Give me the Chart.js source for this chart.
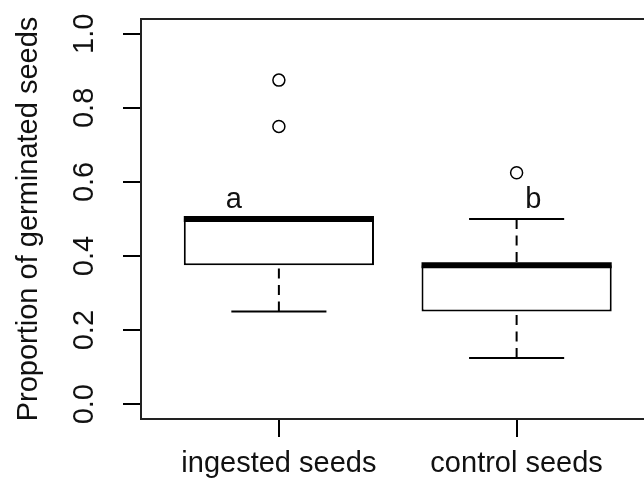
<!DOCTYPE html>
<html>
<head>
<meta charset="utf-8">
<title>Seed germination</title>
<script src="https://cdn.jsdelivr.net/npm/chart.js@4.4.1/dist/chart.umd.min.js"></script>
<style>
  html, body { margin: 0; padding: 0; background: #fff; overflow: hidden; }
  #wrap { width: 644px; height: 479px; overflow: hidden; }
  canvas { display: block; }
</style>
</head>
<body>
<div id="wrap"><canvas id="boxChart" width="662" height="479"></canvas></div>
<script>
const groups = ['ingested seeds', 'control seeds'];
const lowerWhisker = [0.25, 0.125];
const lowerQuartile = [0.375, 0.25];
const medians = [0.5, 0.375];
const upperQuartile = [0.5, 0.375];
const upperWhisker = [0.5, 0.5];
const outliers = [[0.75, 0.875], [0.625]];
const yTicks = [0, 0.2, 0.4, 0.6, 0.8, 1.0];
const letters = ['a', 'b'];
const letterX = [0.81, 2.07];
const letterY = [0.55, 0.55];

const FONT = "'Liberation Sans', Arial, sans-serif";
const INK = '#111';

// whiskers, staples, medians and the group letters
const boxParts = {
    id: 'boxParts',
    afterDatasetsDraw(chart) {
        const ctx = chart.ctx;
        const xs = chart.scales.x;
        const ys = chart.scales.y;
        ctx.save();
        ctx.strokeStyle = '#000';
        groups.forEach((g, i) => {
            const pos = i + 1;
            const cx = xs.getPixelForValue(pos);
            const capL = xs.getPixelForValue(pos - 0.2);
            const capR = xs.getPixelForValue(pos + 0.2);
            const boxL = xs.getPixelForValue(pos - 0.4);
            const boxR = xs.getPixelForValue(pos + 0.4);

            // dashed whiskers run from the end back to the box
            ctx.lineWidth = 2;
            ctx.setLineDash([10, 6.5]);
            [[lowerWhisker[i], lowerQuartile[i]], [upperWhisker[i], upperQuartile[i]]].forEach(([end, edge]) => {
                if (end === edge) return;
                ctx.beginPath();
                ctx.moveTo(cx, ys.getPixelForValue(end));
                ctx.lineTo(cx, ys.getPixelForValue(edge));
                ctx.stroke();
            });
            ctx.setLineDash([]);

            [lowerWhisker[i], upperWhisker[i]].forEach(v => {
                const y = ys.getPixelForValue(v);
                ctx.beginPath();
                ctx.moveTo(capL, y);
                ctx.lineTo(capR, y);
                ctx.stroke();
            });

            const ym = ys.getPixelForValue(medians[i]);
            ctx.lineWidth = 6;
            ctx.beginPath();
            ctx.moveTo(boxL, ym);
            ctx.lineTo(boxR, ym);
            ctx.stroke();
        });

        ctx.fillStyle = INK;
        ctx.font = '29px ' + FONT;
        ctx.textAlign = 'center';
        ctx.textBaseline = 'middle';
        letters.forEach((t, i) => {
            ctx.fillText(t, xs.getPixelForValue(letterX[i]), ys.getPixelForValue(letterY[i]));
        });
        ctx.restore();
    },
    afterDraw(chart) {
        const a = chart.chartArea;
        const ctx = chart.ctx;
        ctx.save();
        ctx.strokeStyle = '#222';
        ctx.lineWidth = 2;
        ctx.strokeRect(a.left, a.top, a.right - a.left, a.bottom - a.top);
        ctx.restore();
    }
};

const boxData = groups.map((g, i) => ({ x: i + 1, y: [lowerQuartile[i], upperQuartile[i]] }));
const outlierData = [];
outliers.forEach((list, i) => list.forEach(v => outlierData.push({ x: i + 1, y: v })));

new Chart(document.getElementById('boxChart'), {
    type: 'bar',
    data: {
        datasets: [
            {
                data: boxData,
                backgroundColor: '#fff',
                borderColor: '#000',
                borderWidth: 2,
                borderSkipped: false,
                barPercentage: 0.8,
                categoryPercentage: 1.0
            },
            {
                type: 'scatter',
                data: outlierData,
                pointStyle: 'circle',
                pointRadius: 6,
                pointBorderWidth: 1.5,
                pointBorderColor: '#000',
                pointBackgroundColor: 'rgba(0,0,0,0)'
            }
        ]
    },
    options: {
        responsive: false,
        animation: false,
        devicePixelRatio: 1,
        layout: { padding: { top: 19, right: 1, left: 0, bottom: 0 } },
        plugins: {
            legend: { display: false },
            tooltip: { enabled: false }
        },
        scales: {
            x: {
                type: 'linear',
                min: 0.42,
                max: 2.58,
                offset: false,
                afterBuildTicks: scale => { scale.ticks = groups.map((g, i) => ({ value: i + 1 })); },
                afterFit: scale => {
                    scale.height = 60;
                    scale.paddingLeft = 0;
                    scale.paddingRight = 0;
                },
                ticks: {
                    callback: v => groups[v - 1],
                    font: { family: FONT, size: 29 },
                    color: INK,
                    padding: 10,
                    maxRotation: 0,
                    autoSkip: false
                },
                grid: { drawOnChartArea: false, offset: false, tickLength: 18, lineWidth: 2, color: '#000' },
                border: { display: false }
            },
            y: {
                min: -0.04,
                max: 1.04,
                afterBuildTicks: scale => { scale.ticks = yTicks.map(v => ({ value: v })); },
                afterFit: scale => {
                    scale.width = 141;
                    scale.paddingTop = 0;
                    scale.paddingBottom = 0;
                },
                ticks: {
                    callback: v => v.toFixed(1),
                    font: { family: FONT, size: 29 },
                    color: INK,
                    minRotation: 90,
                    maxRotation: 90,
                    crossAlign: 'center',
                    padding: 18,
                    autoSkip: false
                },
                grid: { drawOnChartArea: false, tickLength: 18, lineWidth: 2, color: '#000' },
                border: { display: false },
                title: {
                    display: true,
                    text: 'Proportion of germinated seeds',
                    font: { family: FONT, size: 29 },
                    color: INK,
                    padding: { top: 11.6, bottom: 0 }
                }
            }
        }
    },
    plugins: [boxParts]
});
</script>
</body>
</html>
